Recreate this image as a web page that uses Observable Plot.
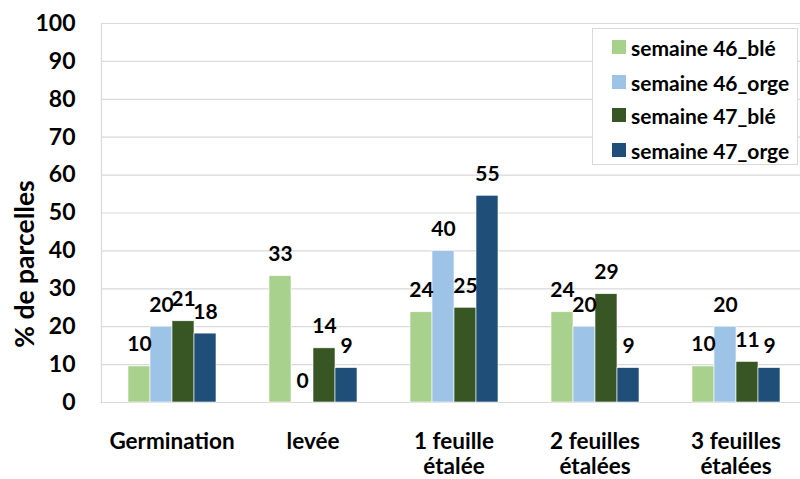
<!DOCTYPE html>
<html><head><meta charset="utf-8">
<script src="https://cdn.jsdelivr.net/npm/d3@7"></script>
<script src="https://cdn.jsdelivr.net/npm/@observablehq/plot@0.6"></script>
<style>
body{margin:0;background:#fff;font-family:Lato, sans-serif;}
#wrap{position:relative;width:800px;height:479px;overflow:hidden;}
#legend{position:absolute;left:592px;top:28px;width:206px;height:137px;border:1px solid #d9d9d9;background:#fff;box-sizing:border-box;}
.item{position:absolute;left:19px;height:20px;display:flex;align-items:center;font-weight:bold;font-size:21px;color:#000;white-space:nowrap;}
.sw{width:14px;height:14px;margin-right:5px;flex:none;}
</style></head><body><div id="wrap"></div>
<script>
const categories = ["Germination", "levée", "1 feuille étalée", "2 feuilles étalées", "3 feuilles étalées"];
const categoryLabels = ["Germination", "levée", "1 feuille\nétalée", "2 feuilles\nétalées", "3 feuilles\nétalées"];
const series = ["semaine 46_blé", "semaine 46_orge", "semaine 47_blé", "semaine 47_orge"];
const colors = ["#a9d18e", "#9dc3e6", "#375623", "#1f4e79"];
const s46ble  = [9.52, 33.33, 23.81, 23.81, 9.52];
const s46orge = [20, 0, 40, 20, 20];
const s47ble  = [21.43, 14.29, 25, 28.57, 10.71];
const s47orge = [18.18, 9.09, 54.55, 9.09, 9.09];
const yTicks = [0, 10, 20, 30, 40, 50, 60, 70, 80, 90, 100];
const yLabel = "% de parcelles";

const seriesValues = [s46ble, s46orge, s47ble, s47orge];
const rows = categories.flatMap((c, i) => series.map((s, j) => ({category: c, series: s, value: seriesValues[j][i]})));

const chart = Plot.plot({
  width: 800, height: 479,
  marginLeft: 99, marginRight: -7, marginTop: 23, marginBottom: 77,
  style: {fontFamily: "Lato, sans-serif", background: "#fff", overflow: "visible"},
  fx: {domain: categories, padding: 0, axis: null},
  x: {domain: series, paddingInner: 0, paddingOuter: 1.11, axis: null},
  y: {domain: [0, 100], axis: null},
  color: {domain: series, range: colors},
  marks: [
    Plot.gridY(yTicks, {stroke: "#d9d9d9", strokeOpacity: 1, strokeWidth: 1.2}),
    Plot.frame({anchor: "left", facetAnchor: "left", stroke: "#d9d9d9", strokeWidth: 1.2}),
    Plot.barY(rows, {fx: "category", x: "series", y: "value", fill: "series", stroke: "#fff", strokeWidth: 0.6}),
    Plot.text(rows, {fx: "category", x: "series", y: "value", text: d => String(Math.round(d.value)), lineAnchor: "bottom", dy: -15, fontSize: 21, fontWeight: "bold", fill: "#000"}),
    Plot.axisY(yTicks, {tickSize: 0, tickPadding: 26, fontSize: 23, fontWeight: "bold", label: null, tickFormat: d => String(d), fill: "#000"}),
    Plot.text(categories, {fx: d => d, text: d => categoryLabels[categories.indexOf(d)], frameAnchor: "bottom", lineAnchor: "top", dy: 28, lineHeight: 1.14, fontSize: 22.5, fontWeight: "bold", fill: "#000"}),
    Plot.text([yLabel], {fx: () => categories[0], text: d => d, frameAnchor: "left", textAnchor: "middle", rotate: -90, dx: -76, dy: 51, fontSize: 26.5, fontWeight: "bold", fill: "#000"})
  ]
});
const wrap = document.getElementById("wrap");
wrap.appendChild(chart);

const legend = document.createElement("div");
legend.id = "legend";
const rowTops = [8, 43, 76, 111];
series.forEach((s, j) => {
  const it = document.createElement("div");
  it.className = "item";
  it.style.top = rowTops[j] + "px";
  const sw = document.createElement("span");
  sw.className = "sw";
  sw.style.background = colors[j];
  const tx = document.createElement("span");
  tx.textContent = s;
  it.appendChild(sw); it.appendChild(tx);
  legend.appendChild(it);
});
wrap.appendChild(legend);
</script>
</body></html>
